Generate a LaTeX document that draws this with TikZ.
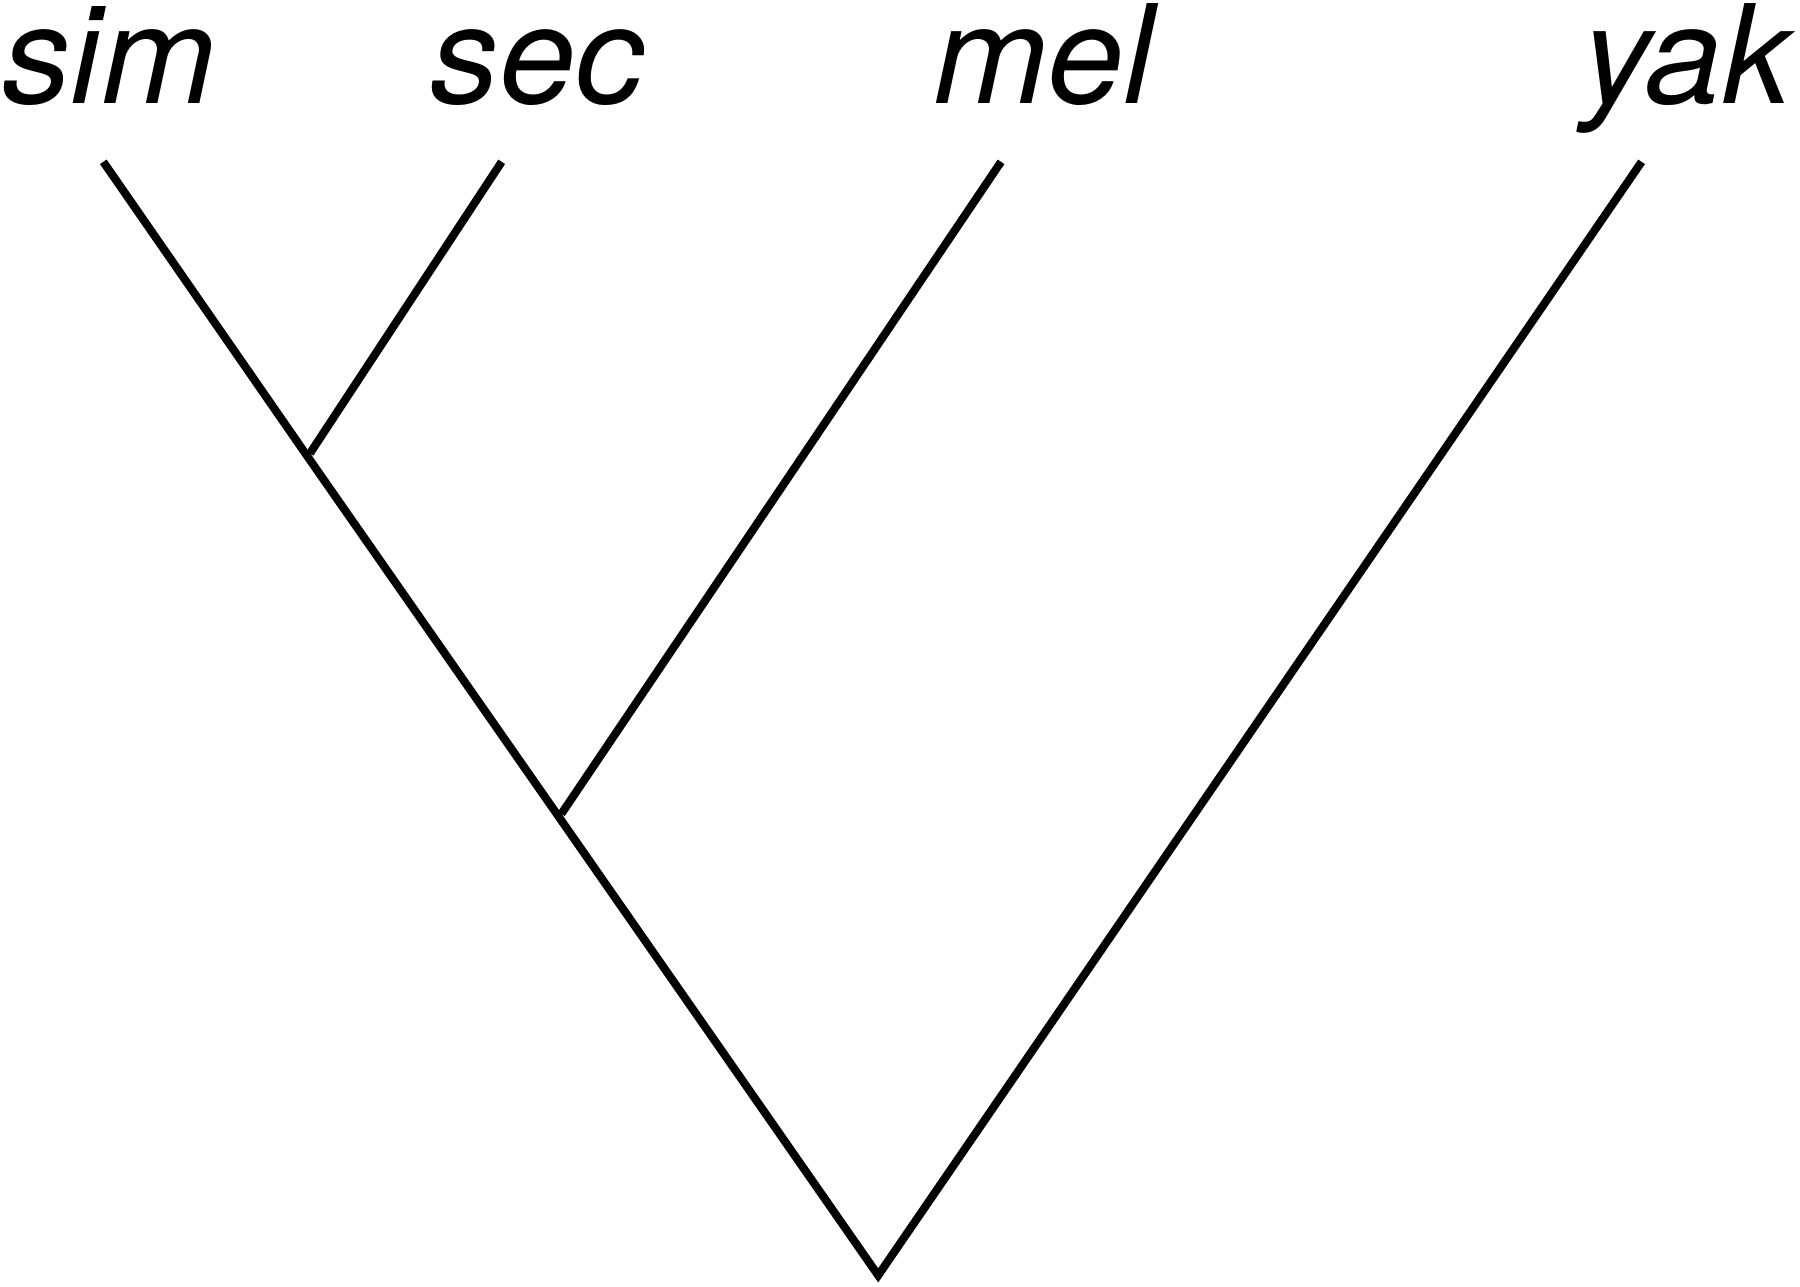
\documentclass[tikz,border=0pt]{standalone}
\usepackage{fontspec}
\setmainfont{TeX Gyre Heros}
\usetikzlibrary{positioning}
\tikzset{
    % Branch and Label Styles
    branch/.style={line width=2pt, line join=miter, line cap=butt},
    taxon/.style={font=\itshape\fontsize{34}{34}\selectfont, anchor=base, inner sep=0pt}
}

\begin{document}
\begin{tikzpicture}

    \useasboundingbox (0,0) rectangle (15.68,11.21);

    % --- TIPS ---
    \coordinate (tipSim) at (0.90,9.80);
    \coordinate (tipSec) at (4.37,9.80);
    \coordinate (tipMel) at (8.72,9.80);
    \coordinate (tipYak) at (14.30,9.80);

    % --- INTERNAL NODES ---
    \coordinate (nodeSimSec) at (2.66,7.26);
    \coordinate (nodeMel) at (4.85,4.12);
    \coordinate (root) at (7.65,0.10);

    % --- LABELS ---
    \node (labSim) [taxon] at (0.95,10.31) {sim};
    \node (labSec) [taxon] at (4.68,10.31) {sec};
    \node (labMel) [taxon] at (9.09,10.31) {mel};
    \node (labYak) [taxon] at (14.69,10.31) {yak};

    % --- BRANCHES ---
    \draw [branch] (tipSim) -- (nodeSimSec) -- (nodeMel) -- (root) -- (tipYak);
    \draw [branch] (tipSec) -- ([xshift=0.04cm]nodeSimSec);
    \draw [branch] (tipMel) -- ([xshift=0.04cm]nodeMel);

\end{tikzpicture}
\end{document}
